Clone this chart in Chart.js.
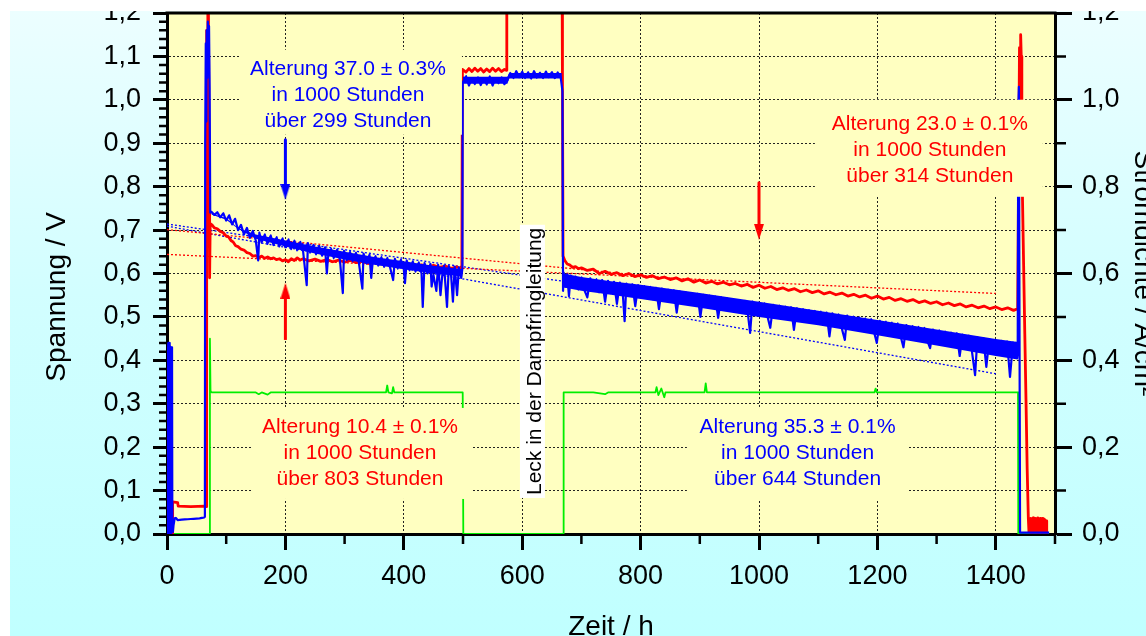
<!DOCTYPE html>
<html>
<head>
<meta charset="utf-8">
<script src="https://cdn.jsdelivr.net/npm/chart.js@4.4.0/dist/chart.umd.min.js"></script>
<style>
  html, body { margin: 0; padding: 0; background: #fff; }
  #panel {
    position: absolute; left: 10px; top: 11px; width: 1136px; height: 625px; overflow: hidden;
    background: linear-gradient(to bottom, #ecfeff 0%, #d2feff 45%, #c0ffff 100%);
  }
  #chart { position: absolute; left: -10px; top: -51px; }
</style>
</head>
<body>
<div id="panel"><canvas id="chart" width="1180" height="700"></canvas></div>
<script>
// cell voltage, cell 1 (blue), hours / volts
const blueT = [
  0, 0.5, 1, 1.5, 2, 2.5, 3, 3.5, 4, 4.5,
  5, 5.5, 6, 6.5, 7, 7.5, 8, 8.5, 9, 10,
  11, 12, 13, 15, 18, 25, 35, 45, 55, 63,
  64, 64.5, 65.5, 66.5, 67, 68, 69, 70, 71, 72,
  73, 75, 80, 85, 90, 95, 100, 105, 110, 115,
  120, 125, 130, 135, 140, 145, 150, 154, 156, 160,
  165, 170, 175, 180, 185, 190, 195, 200, 205, 210,
  215, 220, 225, 230, 236, 238, 242, 247, 252, 257,
  262, 267, 270, 272, 277, 282, 287, 292, 297, 299,
  304, 309, 314, 319, 324, 330, 332, 337, 342, 345,
  347, 352, 357, 362, 367, 372, 377, 382, 385, 390,
  395, 400, 402, 405, 410, 415, 420, 425, 430, 432,
  435, 440, 445, 447, 450, 455, 458, 462, 465, 468,
  473, 476, 480, 483, 486, 490, 493, 497, 499, 499.5,
  505, 510, 515, 520, 525, 530, 535, 540, 545, 550,
  555, 560, 565, 570, 575, 580, 585, 590, 595, 600,
  605, 610, 615, 620, 625, 630, 635, 640, 645, 650,
  655, 660, 665, 668, 669, 670, 673, 676, 679, 682,
  685, 690, 695, 700, 705, 710, 715, 720, 725, 730,
  735, 740, 745, 750, 755, 760, 765, 770, 773, 776,
  781, 786, 791, 796, 801, 806, 811, 816, 821, 826,
  831, 836, 841, 846, 851, 856, 861, 866, 871, 876,
  881, 886, 891, 896, 901, 906, 911, 916, 921, 926,
  931, 936, 941, 946, 951, 956, 961, 966, 971, 976,
  981, 985, 989, 994, 999, 1004, 1009, 1014, 1019, 1024,
  1029, 1034, 1039, 1044, 1049, 1054, 1059, 1064, 1069, 1074,
  1079, 1084, 1089, 1094, 1099, 1104, 1109, 1114, 1119, 1124,
  1129, 1134, 1139, 1145, 1149, 1154, 1159, 1164, 1169, 1174,
  1179, 1184, 1189, 1194, 1199, 1204, 1209, 1214, 1219, 1224,
  1229, 1234, 1239, 1244, 1249, 1254, 1259, 1264, 1269, 1274,
  1279, 1284, 1289, 1294, 1299, 1304, 1309, 1314, 1319, 1324,
  1329, 1334, 1339, 1344, 1349, 1354, 1359, 1365, 1369, 1374,
  1379, 1384, 1389, 1394, 1399, 1404, 1409, 1414, 1419, 1424,
  1429, 1432, 1434, 1436, 1437, 1438, 1439, 1440, 1441, 1490
];
const blueV = [
  0, 0.42, 0.05, 0.43, 0.1, 0.44, 0.02, 0.42, 0.08, 0.44,
  0.03, 0.43, 0.12, 0.42, 0.05, 0.4, 0.1, 0.43, 0.01, 0.005,
  0.02, 0.028, 0.036, 0.037, 0.032, 0.033, 0.034, 0.035, 0.036, 0.038,
  0.04, 0.9, 1.13, 0.95, 1.16, 1.05, 1.18, 1.1, 1.17, 1.03,
  0.74, 0.742, 0.735, 0.741, 0.729, 0.739, 0.722, 0.734, 0.713, 0.726,
  0.70, 0.712, 0.69, 0.705, 0.682, 0.698, 0.676, 0.63, 0.694, 0.671,
  0.69, 0.668, 0.688, 0.665, 0.684, 0.662, 0.681, 0.66, 0.679, 0.656,
  0.676, 0.653, 0.673, 0.65, 0.573, 0.67, 0.648, 0.666, 0.644, 0.664,
  0.641, 0.66, 0.6, 0.638, 0.657, 0.635, 0.655, 0.633, 0.555, 0.652,
  0.63, 0.65, 0.628, 0.648, 0.626, 0.565, 0.646, 0.623, 0.643, 0.59,
  0.62, 0.64, 0.618, 0.638, 0.615, 0.636, 0.613, 0.585, 0.634, 0.611,
  0.632, 0.61, 0.578, 0.63, 0.607, 0.628, 0.604, 0.626, 0.6, 0.523,
  0.624, 0.6, 0.622, 0.57, 0.597, 0.56, 0.62, 0.55, 0.596, 0.618,
  0.523, 0.617, 0.594, 0.535, 0.616, 0.55, 0.614, 0.59, 0.612, 1.04,
  1.055, 1.033, 1.05, 1.036, 1.052, 1.034, 1.05, 1.035, 1.054, 1.033,
  1.05, 1.038, 1.052, 1.036, 1.045, 1.062, 1.05, 1.066, 1.052, 1.065,
  1.05, 1.064, 1.049, 1.066, 1.051, 1.063, 1.05, 1.065, 1.052, 1.064,
  1.05, 1.063, 1.052, 1.02, 0.56, 0.602, 0.57, 0.598, 0.548, 0.595,
  0.568, 0.593, 0.563, 0.591, 0.562, 0.545, 0.589, 0.56, 0.587, 0.557,
  0.585, 0.535, 0.583, 0.555, 0.581, 0.53, 0.579, 0.552, 0.49, 0.577,
  0.549, 0.575, 0.525, 0.573, 0.545, 0.571, 0.543, 0.569, 0.541, 0.567,
  0.518, 0.565, 0.538, 0.563, 0.536, 0.561, 0.51, 0.559, 0.532, 0.557,
  0.53, 0.555, 0.528, 0.553, 0.5, 0.551, 0.524, 0.549, 0.522, 0.547,
  0.498, 0.545, 0.518, 0.543, 0.516, 0.541, 0.514, 0.539, 0.512, 0.537,
  0.51, 0.463, 0.535, 0.507, 0.533, 0.505, 0.531, 0.503, 0.475, 0.528,
  0.5, 0.526, 0.498, 0.524, 0.496, 0.522, 0.47, 0.52, 0.492, 0.518,
  0.49, 0.516, 0.488, 0.514, 0.486, 0.512, 0.484, 0.51, 0.455, 0.508,
  0.48, 0.506, 0.478, 0.447, 0.503, 0.475, 0.501, 0.473, 0.499, 0.471,
  0.497, 0.469, 0.495, 0.467, 0.44, 0.491, 0.463, 0.489, 0.461, 0.487,
  0.459, 0.485, 0.457, 0.43, 0.481, 0.453, 0.479, 0.451, 0.477, 0.449,
  0.475, 0.447, 0.428, 0.471, 0.443, 0.469, 0.44, 0.466, 0.437, 0.464,
  0.435, 0.462, 0.41, 0.459, 0.43, 0.457, 0.428, 0.366, 0.453, 0.424,
  0.451, 0.385, 0.449, 0.42, 0.447, 0.417, 0.445, 0.414, 0.443, 0.362,
  0.441, 0.41, 0.44, 0.405, 0.42, 0.98, 1.03, 0.5, 0.003, 0.003
];

// dense noise core of the blue trace (upper / lower edge), gaps as null
const blueBandT = [0.2, 9.5, 9.8,
  75, 100, 120, 150, 200, 250, 300, 350, 400, 450, 499, 499.5,
  500, 575, 578, 667, 667.5,
  670, 700, 750, 800, 900, 1000, 1100, 1200, 1300, 1400, 1437];
const blueBandTopV = [0.44, 0.43, null,
  0.738, 0.728, 0.705, 0.69, 0.676, 0.662, 0.65, 0.638, 0.628, 0.618, 0.61, null,
  1.053, 1.053, 1.062, 1.062, null,
  0.600, 0.592, 0.582, 0.574, 0.555, 0.535, 0.514, 0.493, 0.471, 0.449, 0.442];
const blueBandBotV = [0.0, 0.0, null,
  0.736, 0.724, 0.703, 0.68, 0.662, 0.646, 0.632, 0.62, 0.61, 0.6, 0.593, null,
  1.037, 1.037, 1.049, 1.049, null,
  0.568, 0.560, 0.551, 0.541, 0.521, 0.500, 0.481, 0.458, 0.434, 0.410, 0.402];

// cell voltage, cell 2 (red)
const redT = [
  0, 9, 9.5, 18, 19, 40, 64, 66, 67, 68,
  69, 70, 71, 72, 73, 76, 80, 85, 90, 95,
  100, 104, 108, 112, 116, 120, 125, 130, 135, 140,
  145, 150, 155, 160, 165, 170, 175, 180, 185, 190,
  195, 200, 205, 210, 215, 220, 225, 230, 240, 250,
  260, 270, 280, 290, 300, 310, 320, 330, 340, 350,
  360, 370, 380, 390, 400, 410, 420, 430, 440, 450,
  460, 470, 480, 490, 498, 499, 505, 510, 515, 520,
  525, 530, 535, 540, 545, 550, 555, 560, 565, 570,
  573, 574, 620, 667.5, 668, 669,
  672, 676, 680, 685, 690, 695, 700, 710, 720, 730,
  740, 750, 760, 770, 780, 790, 800, 810, 820, 830,
  840, 850, 860, 870, 880, 890, 900, 910, 920, 930,
  940, 950, 960, 970, 980, 990, 1000, 1010, 1020, 1030,
  1040, 1050, 1060, 1070, 1080, 1090, 1100, 1110, 1120, 1130,
  1140, 1150, 1160, 1170, 1180, 1190, 1200, 1210, 1220, 1230,
  1240, 1250, 1260, 1270, 1280, 1290, 1300, 1310, 1320, 1330,
  1340, 1350, 1360, 1370, 1380, 1390, 1400, 1410, 1420, 1430,
  1437, 1440, 1441, 1442, 1443, 1444, 1445, 1447, 1449, 1451,
  1453, 1455, 1456, 1457, 1458, 1459, 1460, 1461, 1462, 1463,
  1464, 1465, 1466, 1467, 1468, 1469, 1470, 1471, 1472, 1473,
  1474, 1475, 1476, 1477, 1478, 1479, 1480, 1481, 1482, 1483,
  1484, 1485, 1486
];
const redV = [
  0, 0, 0.074, 0.072, 0.064, 0.063, 0.064, 0.063, 1.16, 1.12,
  1.22, 1.21, 0.9, 0.59, 0.715, 0.712, 0.705, 0.703, 0.697, 0.694,
  0.686, 0.684, 0.676, 0.672, 0.664, 0.662, 0.656, 0.654, 0.648, 0.646,
  0.64, 0.641, 0.637, 0.64, 0.635, 0.638, 0.634, 0.636, 0.632, 0.634,
  0.629, 0.632, 0.627, 0.634, 0.63, 0.636, 0.631, 0.634, 0.629, 0.633,
  0.628, 0.632, 0.627, 0.631, 0.626, 0.63, 0.625, 0.628, 0.623, 0.627,
  0.622, 0.625, 0.62, 0.624, 0.618, 0.622, 0.617, 0.62, 0.615, 0.619,
  0.614, 0.617, 0.612, 0.615, 0.611, 1.07, 1.064, 1.072, 1.065, 1.073,
  1.066, 1.072, 1.064, 1.071, 1.065, 1.073, 1.066, 1.072, 1.065, 1.07,
  1.068, 1.23, null, 1.23, 1.03, 0.64,
  0.63, 0.622, 0.62, 0.614, 0.616, 0.611, 0.613, 0.607, 0.61, 0.6,
  0.605, 0.598, 0.602, 0.595, 0.6, 0.593, 0.597, 0.591, 0.595, 0.588,
  0.592, 0.586, 0.59, 0.583, 0.588, 0.58, 0.585, 0.578, 0.582, 0.576,
  0.58, 0.574, 0.577, 0.571, 0.575, 0.568, 0.573, 0.566, 0.57, 0.563,
  0.567, 0.561, 0.565, 0.558, 0.562, 0.556, 0.56, 0.553, 0.557, 0.551,
  0.555, 0.548, 0.552, 0.546, 0.55, 0.543, 0.548, 0.541, 0.545, 0.538,
  0.542, 0.536, 0.54, 0.533, 0.537, 0.531, 0.535, 0.528, 0.532, 0.526,
  0.53, 0.523, 0.527, 0.521, 0.525, 0.519, 0.523, 0.517, 0.521, 0.515,
  0.519, 1.12, 1.0, 1.15, 1.1, 0.98, 0.78, 0.62, 0.46, 0.31,
  0.15, 0.035, 0.005, 0.033, 0.004, 0.036, 0.006, 0.034, 0.003, 0.037,
  0.005, 0.035, 0.004, 0.036, 0.006, 0.034, 0.003, 0.037, 0.005, 0.035,
  0.004, 0.036, 0.006, 0.034, 0.003, 0.036, 0.005, 0.035, 0.004, 0.033,
  0.006, 0.03, 0.003
];

// current density (green, right axis)
const greenT = [0, 72, 72.5, 73.5, 75, 150, 155, 160, 170, 175,
  370, 372, 374, 380, 382, 384, 499.5, 500.5, 669.5, 670,
  720, 740, 745, 825, 827, 830, 835, 840, 842, 908,
  910, 912, 1195, 1197, 1199, 1437.5, 1438, 1490];
const greenV = [0, 0, 0.45, 0.33, 0.326, 0.326, 0.322, 0.326, 0.321, 0.326,
  0.326, 0.342, 0.326, 0.324, 0.338, 0.326, 0.326, 0, 0, 0.326,
  0.326, 0.322, 0.326, 0.326, 0.338, 0.32, 0.335, 0.315, 0.326, 0.326,
  0.347, 0.326, 0.326, 0.335, 0.326, 0.326, 0, 0];

// linear ageing fits (dotted)
const redFitLongT = [0, 1400];
const redFitLongV = [0.644, 0.554];
const redFitShortT = [0, 990];
const redFitShortV = [0.701, 0.571];
const blueFitFirstT = [0, 700];
const blueFitFirstV = [0.714, 0.576];
const blueFitSecondT = [0, 1400];
const blueFitSecondV = [0.709, 0.369];

// arrows: shaft start, head centre
const blueArrowT = [200, 200];
const blueArrowV = [0.908, 0.788];
const redArrowUpT = [200, 200];
const redArrowUpV = [0.447, 0.560];
const redArrowDownT = [1000, 1000];
const redArrowDownV = [0.809, 0.696];

const noteBlueTop = ['Alterung 37.0 ± 0.3%', 'in 1000 Stunden', 'über 299 Stunden'];
const noteRedTop = ['Alterung 23.0 ± 0.1%', 'in 1000 Stunden', 'über 314 Stunden'];
const noteRedLow = ['Alterung 10.4 ± 0.1%', 'in 1000 Stunden', 'über 803 Stunden'];
const noteBlueLow = ['Alterung 35.3 ± 0.1%', 'in 1000 Stunden', 'über 644 Stunden'];
const leakText = 'Leck in der Dampfringleitung';

const RED = '#ff0000', BLUE = '#0000ff', GREEN = '#00ee00', PLOT_BG = '#ffffc1';
const FONT = "'Liberation Sans', Arial, Helvetica, sans-serif";
Chart.defaults.font.family = FONT;
Chart.defaults.color = '#000';

const toPoints = (t, v) => t.map((x, i) => ({ x, y: v[i] }));
const comma = v => v.toFixed(1).replace('.', ',');

function arrowHead(color) {
  const c = document.createElement('canvas');
  c.width = 10; c.height = 16;
  const g = c.getContext('2d');
  g.fillStyle = color;
  g.beginPath(); g.moveTo(5, 0); g.lineTo(10, 16); g.lineTo(0, 16); g.closePath(); g.fill();
  return c;
}

function arrow(t, v, color, rot) {
  return {
    data: toPoints(t, v), borderColor: color, borderWidth: 3, borderCapStyle: 'butt',
    pointStyle: arrowHead(color), pointRotation: rot, pointRadius: [0, 8], pointHoverRadius: 0
  };
}

function fit(t, v, color) {
  return { data: toPoints(t, v), borderColor: color, borderWidth: 1.3, borderDash: [2, 2] };
}

// text boxes: [h from, h to, V top, V bottom], text anchor [h, first baseline V]
const notes = [
  { lines: noteBlueTop, color: BLUE, box: [123.3, 498.2, 1.1155, 0.9196], at: [305.7, 1.0578] },
  { lines: noteRedTop, color: RED, box: [1094.4, 1479.5, 1.0002, 0.7767], at: [1288.6, 0.9311] },
  { lines: noteRedLow, color: RED, box: [143.6, 515.1, 0.2904, 0.0807], at: [326.0, 0.2328] },
  { lines: noteBlueLow, color: BLUE, box: [878.2, 1253.2, 0.2927, 0.0784], at: [1065.2, 0.2328] }
];
const leak = { box: [596.2, 638.4, 0.7122, 0.0830], at: [631.7, 0.3976] };

const decor = {
  id: 'decor',
  beforeDraw(chart) {
    const { ctx, chartArea: a } = chart;
    ctx.save();
    ctx.fillStyle = PLOT_BG;
    ctx.fillRect(a.left, a.top, a.width, a.height);
    ctx.restore();
  },
  afterDatasetsDraw(chart) {
    const { ctx, scales: { x, y } } = chart;
    const rect = b => {
      const x0 = x.getPixelForValue(b[0]), x1 = x.getPixelForValue(b[1]);
      const y0 = y.getPixelForValue(b[2]), y1 = y.getPixelForValue(b[3]);
      return [x0, y0, x1 - x0, y1 - y0];
    };
    ctx.save();
    ctx.font = '21px ' + FONT;
    ctx.textAlign = 'center';
    ctx.textBaseline = 'alphabetic';
    notes.forEach(n => {
      ctx.fillStyle = PLOT_BG;
      ctx.fillRect(...rect(n.box));
      ctx.fillStyle = n.color;
      const cx = x.getPixelForValue(n.at[0]), by = y.getPixelForValue(n.at[1]);
      n.lines.forEach((s, i) => ctx.fillText(s, cx, by + i * 26));
    });
    ctx.fillStyle = '#fff';
    ctx.fillRect(...rect(leak.box));
    ctx.translate(x.getPixelForValue(leak.at[0]), y.getPixelForValue(leak.at[1]));
    ctx.rotate(-Math.PI / 2);
    ctx.fillStyle = '#000';
    ctx.fillText(leakText, 0, 0);
    ctx.restore();
  },
  afterDraw(chart) {
    const { ctx, chartArea: a, scales: { x, y, y2 } } = chart;
    ctx.save();
    ctx.strokeStyle = '#000';
    ctx.lineWidth = 3;
    ctx.beginPath();
    ctx.moveTo(a.left - 1.5, a.top); ctx.lineTo(a.right + 1.5, a.top);
    ctx.stroke();
    ctx.lineWidth = 2.5;
    ctx.beginPath();
    for (let k = 1; k < 60; k++) {
      if (k % 5 === 0) continue;
      const py = y.getPixelForValue(k * 0.02);
      ctx.moveTo(a.left - 8, py); ctx.lineTo(a.left, py);
    }
    for (let k = 1; k < 12; k += 2) {
      const py = y2.getPixelForValue(k * 0.1);
      ctx.moveTo(a.right, py); ctx.lineTo(a.right + 11, py);
    }
    for (let k = 1; k < 16; k += 2) {
      const px = x.getPixelForValue(k * 100);
      ctx.moveTo(px, a.bottom); ctx.lineTo(px, a.bottom + 10);
    }
    ctx.stroke();
    ctx.restore();
  }
};

const gridDots = { color: '#222', lineWidth: 1, tickColor: '#000', tickWidth: 3 };

new Chart(document.getElementById('chart'), {
  type: 'line',
  data: {
    datasets: [
      arrow(blueArrowT, blueArrowV, BLUE, 180),
      arrow(redArrowUpT, redArrowUpV, RED, 0),
      arrow(redArrowDownT, redArrowDownV, RED, 180),
      { label: 'U Zelle 1', data: toPoints(blueT, blueV), borderColor: BLUE, borderWidth: 2.2, tension: 0.001 },
      { label: 'U Zelle 1 Rauschen', data: toPoints(blueBandT, blueBandTopV), borderWidth: 0, borderColor: BLUE,
        backgroundColor: BLUE, fill: '+1' },
      { label: 'U Zelle 1 Rauschen unten', data: toPoints(blueBandT, blueBandBotV), borderWidth: 0, borderColor: BLUE },
      { label: 'U Zelle 2', data: toPoints(redT, redV), borderColor: RED, borderWidth: 2.8 },
      { label: 'Stromdichte', data: toPoints(greenT, greenV), borderColor: GREEN, borderWidth: 1.8, yAxisID: 'y2' },
      fit(redFitShortT, redFitShortV, RED),
      fit(redFitLongT, redFitLongV, RED),
      fit(blueFitFirstT, blueFitFirstV, BLUE),
      fit(blueFitSecondT, blueFitSecondV, BLUE)
    ]
  },
  options: {
    responsive: false,
    animation: false,
    events: [],
    layout: { padding: { top: 53, left: 0, right: 0, bottom: 0 } },
    elements: {
      line: { tension: 0, borderJoinStyle: 'round', fill: false },
      point: { radius: 0, hoverRadius: 0 }
    },
    plugins: { legend: { display: false }, tooltip: { enabled: false } },
    scales: {
      x: {
        type: 'linear', position: 'bottom', min: 0, max: 1500,
        ticks: { stepSize: 200, includeBounds: false, autoSkip: false, maxRotation: 0, padding: 10, font: { size: 27 }, color: '#000', callback: v => String(v) },
        grid: { ...gridDots, tickLength: 16 },
        border: { color: '#000', width: 3, dash: [2, 2] },
        title: { display: true, text: 'Zeit / h', font: { size: 28 }, color: '#000', padding: { top: 0, bottom: 16 } },
        afterFit: s => { s.height = 126; }
      },
      y: {
        type: 'linear', position: 'left', min: 0, max: 1.2,
        ticks: { stepSize: 0.1, autoSkip: false, padding: 12, font: { size: 27 }, color: '#000', callback: comma },
        grid: { ...gridDots, tickLength: 14 },
        border: { color: '#000', width: 3, dash: [2, 2] },
        title: { display: true, text: 'Spannung / V' + '\u00a0'.repeat(6), font: { size: 28 }, color: '#000', padding: { top: 40, bottom: 0 } },
        afterFit: s => { s.width = 167; }
      },
      y2: {
        type: 'linear', position: 'right', min: 0, max: 1.2,
        ticks: { stepSize: 0.2, autoSkip: false, padding: 10, font: { size: 27 }, color: '#000', callback: comma },
        grid: { drawOnChartArea: false, tickColor: '#000', tickWidth: 3, tickLength: 17 },
        border: { color: '#000', width: 3 },
        title: { display: true, text: 'Stromdichte / A/cm²', font: { size: 28 }, color: '#000', padding: { top: 20, bottom: 0 } },
        afterFit: s => { s.width = 125; }
      }
    }
  },
  plugins: [decor]
});
</script>
</body>
</html>
